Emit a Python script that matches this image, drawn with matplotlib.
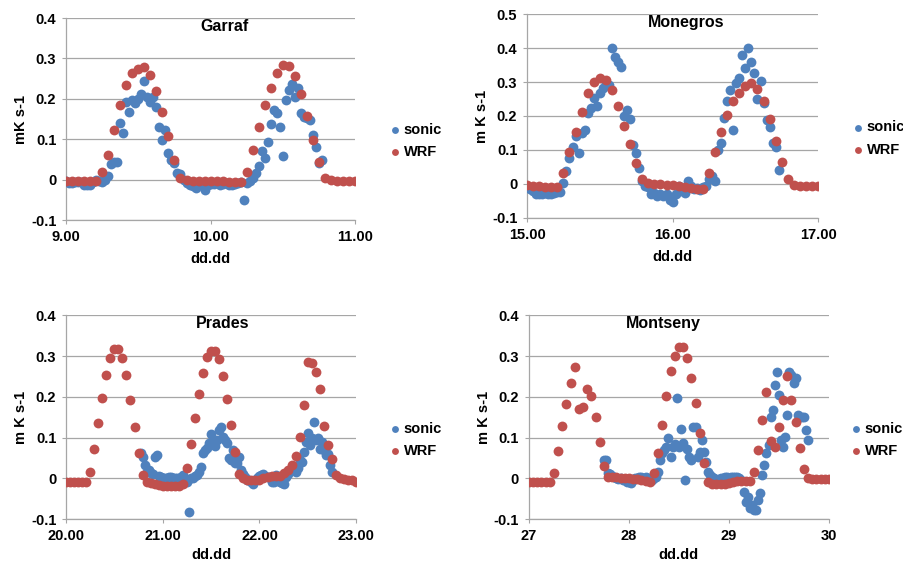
import numpy as np
import matplotlib
matplotlib.use("Agg")
import matplotlib.pyplot as plt
from matplotlib.ticker import FuncFormatter

plt.rcParams['font.family'] = ['Liberation Sans', 'DejaVu Sans']
plt.rcParams['font.weight'] = 'bold'

SONIC_COLOR = '#4F81BD'
WRF_COLOR = '#C0504D'

# Garraf: WRF hourly from 9.00, sonic half-hourly from 9.00
garraf_wrf_start = 9.0
garraf_wrf = [-0.004, -0.004, -0.004, -0.004, -0.004, -0.003, 0.018, 0.062, 0.123, 0.186,
              0.234, 0.265, 0.275, 0.279, 0.258, 0.220, 0.168, 0.107, 0.049, 0.004,
              -0.001, -0.002, -0.003, -0.004, -0.004, -0.003, -0.004, -0.005, -0.005, -0.005,
              0.020, 0.074, 0.131, 0.184, 0.228, 0.265, 0.283, 0.281, 0.256, 0.212,
              0.157, 0.098, 0.043, 0.004, -0.001, -0.002, -0.003, -0.003, -0.003]
garraf_sonic_start = 9.0
garraf_sonic = [-0.004, -0.008, -0.008, -0.005, -0.005, -0.006, -0.012, -0.013, -0.012, -0.005,
                0.000, -0.003, -0.005, 0.000, 0.010, 0.040, 0.044, 0.043, 0.141, 0.115,
                0.193, 0.168, 0.197, 0.190, 0.200, 0.213, 0.243, 0.205, 0.193, 0.205,
                0.180, 0.131, 0.098, 0.123, 0.066, 0.049, 0.041, 0.016, 0.015, 0.000,
                -0.007, -0.012, -0.015, -0.020, -0.005, -0.012, -0.026, -0.012, -0.010, -0.010,
                -0.008, -0.012, -0.010, -0.008, -0.012, -0.013, -0.010, -0.008, -0.005, -0.049,
                -0.008, -0.003, 0.005, 0.016, 0.033, 0.070, 0.053, 0.094, 0.139, 0.172,
                0.164, 0.131, 0.059, 0.197, 0.221, 0.238, 0.205, 0.228, 0.166, 0.156,
                0.152, 0.148, 0.110, 0.082, 0.041, 0.049]

# Monegros
monegros_wrf_start = 15.0
monegros_wrf = [-0.002, -0.005, -0.007, -0.008, -0.010, -0.010, 0.033, 0.093, 0.152, 0.213,
                0.267, 0.300, 0.313, 0.306, 0.277, 0.230, 0.171, 0.118, 0.062, 0.013,
                0.003, 0.001, 0.000, -0.002, -0.003, -0.006, -0.009, -0.012, -0.014, -0.016,
                0.032, 0.093, 0.152, 0.202, 0.243, 0.267, 0.287, 0.297, 0.279, 0.243,
                0.191, 0.125, 0.064, 0.013, -0.002, -0.005, -0.005, -0.005, -0.005]
monegros_sonic_start = 15.0
monegros_sonic = [-0.010, -0.015, -0.020, -0.030, -0.030, -0.030, -0.028, -0.030, -0.030, -0.028,
                  -0.025, -0.025, 0.003, 0.037, 0.076, 0.110, 0.142, 0.091, 0.150, 0.160,
                  0.208, 0.223, 0.252, 0.228, 0.267, 0.282, 0.297, 0.290, 0.400, 0.375,
                  0.360, 0.345, 0.200, 0.218, 0.190, 0.115, 0.091, 0.047, 0.008, -0.007,
                  -0.010, -0.031, -0.028, -0.036, -0.030, -0.035, -0.030, -0.046, -0.054, -0.030,
                  -0.005, -0.022, -0.026, 0.008, -0.005, -0.015, -0.012, -0.018, -0.010, -0.005,
                  0.013, 0.022, 0.008, 0.100, 0.120, 0.194, 0.243, 0.277, 0.160, 0.297,
                  0.311, 0.380, 0.340, 0.400, 0.360, 0.326, 0.250, 0.304, 0.238, 0.189,
                  0.169, 0.120, 0.110, 0.042]

# Prades
prades_wrf_start = 20.0
prades_wrf = [-0.008, -0.008, -0.008, -0.008, -0.008, -0.008, 0.016, 0.071, 0.135, 0.198,
              0.253, 0.294, 0.317, 0.317, 0.294, 0.253, 0.192, 0.127, 0.061, 0.008,
              -0.010, -0.012, -0.015, -0.017, -0.018, -0.018, -0.018, -0.018, -0.018, -0.015,
              0.025, 0.085, 0.147, 0.207, 0.259, 0.298, 0.313, 0.313, 0.292, 0.251,
              0.194, 0.131, 0.064, 0.010, 0.000, -0.004, -0.005, -0.005, -0.003, 0.000,
              0.003, 0.005, 0.005, 0.005, 0.012, 0.020, 0.033, 0.055, 0.102, 0.180,
              0.286, 0.283, 0.260, 0.219, 0.128, 0.082, 0.047, 0.008, 0.000, -0.002,
              -0.003, -0.005, -0.008]
prades_sonic_start = 20.0 + 37 / 48
prades_sonic = [0.061, 0.053, 0.033, 0.016, 0.020, 0.014, 0.010, 0.052, 0.057, 0.005,
                0.003, 0.000, 0.002, 0.000, 0.003, 0.004, 0.002, 0.000, 0.002, 0.000,
                0.004, 0.008, -0.005, -0.008, -0.082, 0.000, 0.002, 0.005, 0.008, 0.015,
                0.029, 0.061, 0.069, 0.075, 0.086, 0.109, 0.090, 0.079, 0.094, 0.118,
                0.127, 0.102, 0.095, 0.086, 0.049, 0.045, 0.069, 0.037, 0.037, 0.053,
                0.020, 0.010, 0.004, -0.004, -0.005, -0.008, -0.014, -0.003, 0.000, 0.005,
                0.008, 0.010, 0.006, 0.004, 0.003, -0.008, -0.010, 0.008, -0.005, -0.008,
                -0.012, -0.015, 0.004, 0.010, 0.020, 0.028, 0.030, 0.016, 0.025, 0.045,
                0.040, 0.065, 0.090, 0.110, 0.082, 0.100, 0.139, 0.094, 0.098, 0.073,
                0.088, 0.069, 0.057, 0.060, 0.033, 0.016]

# Montseny
montseny_wrf_start = 27.0
montseny_wrf = [-0.008, -0.008, -0.008, -0.008, -0.008, -0.008, 0.014, 0.067, 0.128, 0.182,
                0.233, 0.272, 0.170, 0.176, 0.218, 0.202, 0.150, 0.090, 0.030, 0.004,
                0.004, 0.003, 0.002, 0.001, 0.000, -0.001, -0.002, -0.004, -0.006, -0.008,
                0.014, 0.061, 0.131, 0.202, 0.263, 0.300, 0.322, 0.322, 0.296, 0.247,
                0.184, 0.110, 0.037, -0.010, -0.013, -0.015, -0.015, -0.015, -0.012, -0.008,
                -0.007, -0.006, -0.006, -0.006, 0.016, 0.069, 0.143, 0.211, 0.092, 0.076,
                0.127, 0.192, 0.251, 0.192, 0.139, 0.075, 0.024, 0.000, -0.002, -0.002,
                -0.002, -0.002, -0.002]
montseny_sonic_start = 27.0 + 36 / 48
montseny_sonic = [0.045, 0.045, 0.012, 0.010, 0.005, 0.004, 0.000, -0.002, 0.000, -0.003,
                  -0.004, -0.008, -0.010, -0.012, -0.005, 0.000, 0.002, 0.004, 0.003, 0.000,
                  0.004, 0.002, -0.002, -0.005, 0.000, 0.004, 0.016, 0.045, 0.061, 0.070,
                  0.078, 0.098, 0.053, 0.078, 0.085, 0.196, 0.078, 0.122, 0.086, -0.004,
                  0.073, 0.053, 0.045, 0.127, 0.127, 0.053, 0.065, 0.094, 0.065, 0.041,
                  0.016, 0.008, 0.004, 0.000, -0.003, -0.002, 0.000, 0.002, 0.004, 0.003,
                  0.002, 0.004, 0.003, 0.004, 0.004, 0.000, -0.005, -0.033, -0.057, -0.045,
                  -0.073, -0.065, -0.078, -0.078, -0.053, -0.037, 0.008, 0.033, 0.061, 0.082,
                  0.151, 0.167, 0.229, 0.261, 0.204, 0.094, 0.078, 0.102, 0.155, 0.261,
                  0.253, 0.233, 0.245, 0.155, 0.151, 0.151, 0.151, 0.118, 0.094]


def y_fmt(v, pos):
    if abs(v) < 1e-9:
        return '0'
    return f'{v:.1f}'


def draw_panel(rect, title, sonic_start, sonic, wrf_start, wrf, xlim, ylim,
               xticks, xfmt, ylabel, title_x, legend_xy, xlabelpad=6):
    ax = fig.add_axes(rect)
    t_sonic = sonic_start + np.arange(len(sonic)) / 48
    t_wrf = wrf_start + np.arange(len(wrf)) / 24
    ax.scatter(t_sonic, sonic, s=50, color=SONIC_COLOR, label='sonic', zorder=3, linewidths=0)
    ax.scatter(t_wrf, wrf, s=50, color=WRF_COLOR, label='WRF', zorder=4, linewidths=0)
    ax.set_xlim(xlim)
    ax.set_ylim(ylim)
    ax.set_xticks(xticks)
    ax.xaxis.set_major_formatter(FuncFormatter(lambda v, p: xfmt.format(v)))
    ax.set_yticks(np.arange(ylim[0], ylim[1] + 0.001, 0.1))
    ax.yaxis.set_major_formatter(FuncFormatter(y_fmt))
    ax.grid(axis='y', color='#A6A6A6', linewidth=0.9)
    ax.set_axisbelow(True)
    for side in ('top', 'right'):
        ax.spines[side].set_visible(False)
    for side in ('left', 'bottom'):
        ax.spines[side].set_color('#A6A6A6')
        ax.spines[side].set_linewidth(0.9)
    ax.tick_params(axis='both', length=3, color='#A6A6A6', labelsize=10.5, pad=4)
    ax.set_xlabel('dd.dd', fontsize=10.5, fontweight='bold', labelpad=xlabelpad)
    ax.set_ylabel(ylabel, fontsize=10.5, fontweight='bold', labelpad=2)
    ax.text(title_x, 0.96, title, transform=ax.transAxes, ha='center', va='center',
            fontsize=11.5, fontweight='bold')
    ax.legend(loc='center left', bbox_to_anchor=legend_xy, bbox_transform=fig.transFigure,
              frameon=False, handlelength=1.0, handletextpad=0.1, labelspacing=0.55,
              markerscale=0.7, borderpad=0, borderaxespad=0,
              prop={'size': 10.5, 'weight': 'bold'})
    return ax


fig = plt.figure(figsize=(9.04, 5.63), dpi=100)

draw_panel([0.073, 0.609, 0.320, 0.359], 'Garraf', garraf_sonic_start, garraf_sonic,
           garraf_wrf_start, garraf_wrf, (9.0, 11.0), (-0.1, 0.4),
           [9.0, 10.0, 11.0], '{:.2f}', 'mK s-1', 0.547, (0.429, 0.749))
draw_panel([0.583, 0.613, 0.322, 0.362], 'Monegros', monegros_sonic_start, monegros_sonic,
           monegros_wrf_start, monegros_wrf, (15.0, 17.0), (-0.1, 0.5),
           [15.0, 16.0, 17.0], '{:.2f}', 'm K s-1', 0.546, (0.941, 0.754))
draw_panel([0.073, 0.078, 0.321, 0.362], 'Prades', prades_sonic_start, prades_sonic,
           prades_wrf_start, prades_wrf, (20.0, 23.0), (-0.1, 0.4),
           [20.0, 21.0, 22.0, 23.0], '{:.2f}', 'm K s-1', 0.54, (0.429, 0.2185), 4)
draw_panel([0.585, 0.078, 0.332, 0.362], 'Montseny', montseny_sonic_start, montseny_sonic,
           montseny_wrf_start, montseny_wrf, (27.0, 30.0), (-0.1, 0.4),
           [27, 28, 29, 30], '{:.0f}', 'm K s-1', 0.447, (0.939, 0.2185), 4)

fig.savefig('out.png', dpi=100)
